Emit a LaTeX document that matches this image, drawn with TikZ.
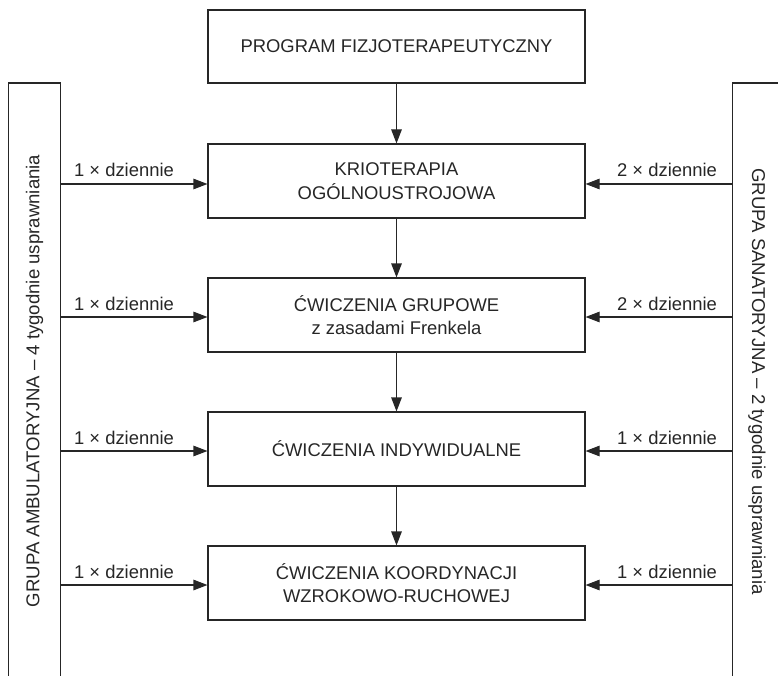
\documentclass[tikz,border=0pt]{standalone}
\usepackage{fontspec}
\setmainfont{Liberation Sans}
\usetikzlibrary{arrows.meta}
\definecolor{ink}{HTML}{262626}
\begin{document}
\begin{tikzpicture}[x=1pt,y=-1pt,
  box/.style={draw=ink,line width=1.1pt,minimum width=377pt,minimum height=74pt,inner sep=0pt,align=center,font=\fontsize{18.4}{23.5}\selectfont,text=ink},
  lbl/.style={font=\fontsize{18.4}{21}\selectfont,text=ink,inner sep=0pt},
  side/.style={font=\fontsize{18.6}{21}\selectfont,text=ink,inner sep=0pt},
  conn/.style={draw=ink,line width=1.1pt,-{Triangle[length=14pt,width=10.5pt]}},
  col/.style={draw=ink,line width=1.1pt}]
\useasboundingbox (0,0) rectangle (778,676);
% main boxes
\node[box,minimum height=73pt] (prog) at (396.5,46.5) {PROGRAM FIZJOTERAPEUTYCZNY};
\node[box] (krio) at (396.5,181) {KRIOTERAPIA\\OGÓLNOUSTROJOWA};
\node[box] (grup) at (396.5,315) {ĆWICZENIA GRUPOWE\\z zasadami Frenkela};
\node[box] (indy) at (396.5,449) {ĆWICZENIA INDYWIDUALNE};
\node[box] (koor) at (396.5,583) {ĆWICZENIA KOORDYNACJI\\WZROKOWO-RUCHOWEJ};
% vertical arrows
\draw[conn] (prog) -- (krio);
\draw[conn] (krio) -- (grup);
\draw[conn] (grup) -- (indy);
\draw[conn] (indy) -- (koor);
% side columns (open at bottom)
\coordinate (Lb) at (8.5,680);
\coordinate (Lt) at (8.5,83);
\coordinate (Rt) at (60.7,83);
\coordinate (Rb) at (60.7,680);
\draw[col] (Lb) -- (Lt) -- (Rt) -- (Rb);
\coordinate (Sb) at (732.7,680);
\coordinate (St) at (732.7,83);
\coordinate (Se) at (782,83);
\draw[col] (Sb) -- (St) -- (Se);
\node[side,rotate=90] (lside) at (34.6,381) {GRUPA AMBULATORYJNA – 4 tygodnie usprawniania};
\node[side,rotate=-90] (rside) at (757,381.5) {GRUPA SANATORYJNA – 2 tygodnie usprawniania};
% horizontal arrows
\foreach \n/\y in {krio/184, grup/317, indy/451, koor/585}{
  \coordinate (l\n) at (60.7,\y);
  \coordinate (r\n) at (732.7,\y);
  \draw[conn] (l\n) -- (\n.west |- l\n);
  \draw[conn] (r\n) -- (\n.east |- r\n);
}
\node[lbl,anchor=base] (lk) at (124,177) {1 × dziennie};
\node[lbl,anchor=base] (lg) at (124,310) {1 × dziennie};
\node[lbl,anchor=base] (li) at (124,444) {1 × dziennie};
\node[lbl,anchor=base] (lo) at (124,578) {1 × dziennie};
\node[lbl,anchor=base] (rk) at (667,177) {2 × dziennie};
\node[lbl,anchor=base] (rg) at (667,310) {2 × dziennie};
\node[lbl,anchor=base] (ri) at (667,444) {1 × dziennie};
\node[lbl,anchor=base] (ro) at (667,578) {1 × dziennie};
\end{tikzpicture}
\end{document}
